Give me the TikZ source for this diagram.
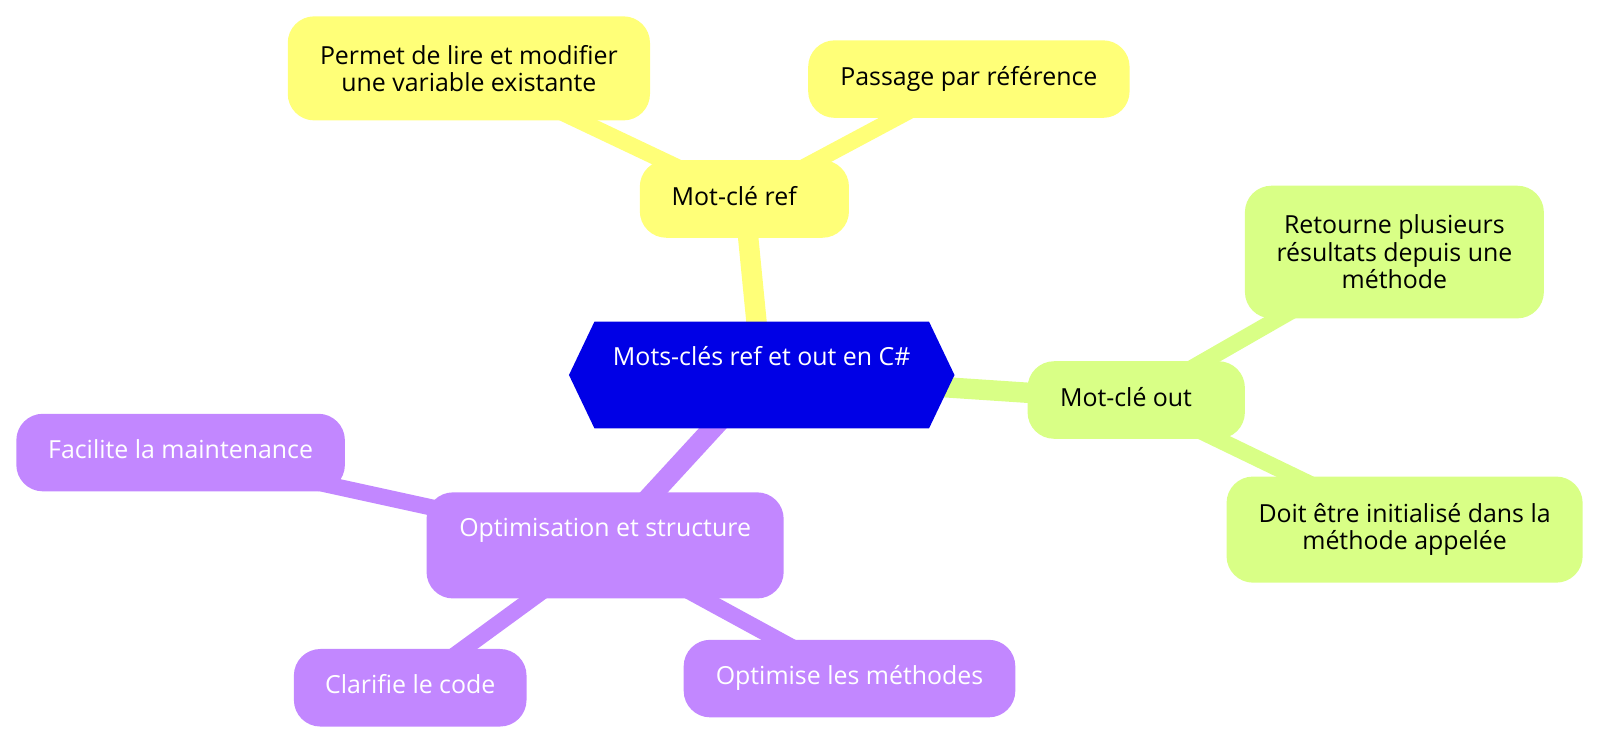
\documentclass[tikz,border=0pt]{standalone}
\usepackage{fontspec}
\setmainfont{Open Sans}
\usetikzlibrary{positioning,backgrounds}
\definecolor{rootblue}{HTML}{0000E6}
\definecolor{refyellow}{HTML}{FFFF78}
\definecolor{outgreen}{HTML}{D9FF86}
\definecolor{optpurple}{HTML}{C287FF}

\begin{document}
\begin{tikzpicture}[x=0.5pt,y=-0.5pt]
	\tikzstyle{box} = [rounded corners=13pt, inner sep=0pt, align=center, font=\fontsize{12.2}{13.5}\selectfont]
	\tikzstyle{one} = [text height=9pt, text depth=3pt, minimum height=38pt]
	\tikzstyle{tall} = [text height=9pt, text depth=18pt, minimum height=52pt]
	\tikzstyle{yel} = [box, fill=refyellow]
	\tikzstyle{grn} = [box, fill=outgreen]
	\tikzstyle{pur} = [box, fill=optpurple, text=white]
	\tikzstyle{branch} = [line width=10pt]
	\tikzstyle{twig} = [line width=8pt]
	\useasboundingbox (0,0) rectangle (1568,729);
	
	\node[box, tall, text=white, minimum width=163.5pt](root) at (746.5,367.5){Mots-clés ref et out en C\#};
	
	% ref
	\node[yel, one, minimum width=102.5pt](ref) at (729.5,195){Mot-clé ref\hspace{10pt}};
	\node[yel, minimum width=177.5pt, minimum height=51pt](lire) at (459.5,67){Permet de lire et modifier\\une variable existante};
	\node[yel, one, minimum width=157.5pt](passage) at (949.5,77.5){Passage par référence};
	
	% out
	\node[grn, one, minimum width=106.5pt](out) at (1113.5,392){Mot-clé out\hspace{10pt}};
	\node[grn, minimum width=146.5pt, minimum height=65pt](retour) at (1366.5,247){Retourne plusieurs\\résultats depuis une\\méthode};
	\node[grn, minimum width=174.5pt, minimum height=52pt](init) at (1376.5,519){Doit être initialisé dans la\\méthode appelée};
	
	% optimisation
	\node[pur, tall, minimum width=175pt](optim) at (593,534.5){Optimisation et structure};
	\node[pur, one, minimum width=161pt](maint) at (177,443.5){Facilite la maintenance};
	\node[pur, one, minimum width=114pt](code) at (402,674){Clarifie le code};
	\node[pur, one, minimum width=162.5pt](meth) at (832.5,665){Optimise les méthodes};
	
	\begin{scope}[on background layer]
		\draw[branch, refyellow](root.center) -- (ref.center);
		\draw[twig, refyellow](ref.center) -- (lire.center);
		\draw[twig, refyellow](ref.center) -- (passage.center);
		\draw[branch, outgreen](root.center) -- (out.center);
		\draw[twig, outgreen](out.center) -- (retour.center);
		\draw[twig, outgreen](out.center) -- (init.center);
		\draw[branch, optpurple](root.center) -- (optim.center);
		\draw[twig, optpurple](optim.center) -- (maint.center);
		\draw[twig, optpurple](optim.center) -- (code.center);
		\draw[twig, optpurple](optim.center) -- (meth.center);
		\fill[rootblue]([xshift=-12.5pt]root.west) -- (root.north west) -- (root.north east) -- ([xshift=12.5pt]root.east) -- (root.south east) -- (root.south west) -- cycle;
	\end{scope}
\end{tikzpicture}
\end{document}
